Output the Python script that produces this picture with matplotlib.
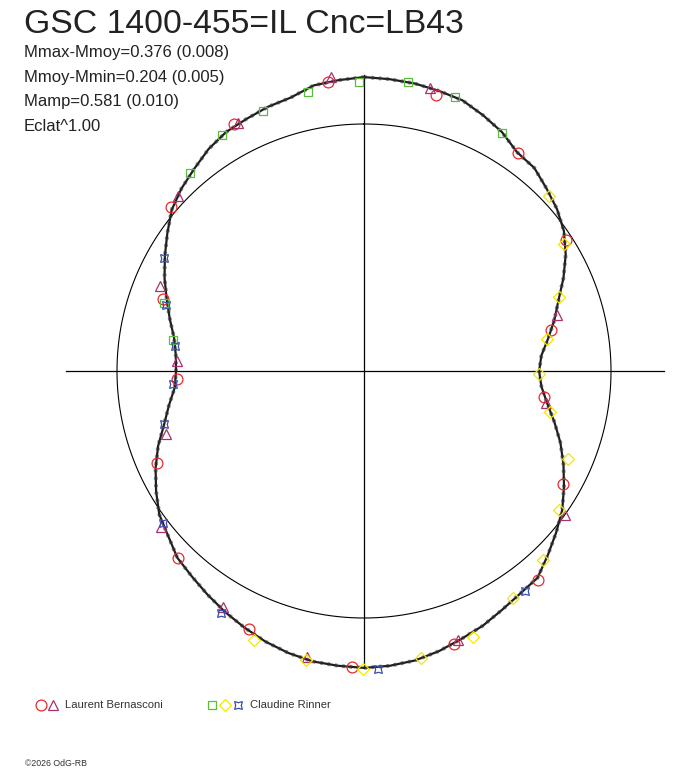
import numpy as np
import matplotlib
matplotlib.use('Agg')
import matplotlib.pyplot as plt
from matplotlib.lines import Line2D

plt.rcParams['font.family'] = ['Liberation Sans', 'DejaVu Sans']

# Courbe de lumiere polaire : angle (deg, sens horaire depuis le haut), eclat relatif (cercle = 1)
curve_angle = list(range(0, 360, 5))
curve_flux = [1.190, 1.186, 1.182, 1.174, 1.166, 1.142, 1.117, 1.081, 1.073, 1.045, 1.020, 0.988,
              0.943, 0.891, 0.838, 0.798, 0.757, 0.721, 0.709, 0.721, 0.753, 0.798, 0.846, 0.891,
              0.935, 0.980, 1.016, 1.053, 1.093, 1.101, 1.117, 1.138, 1.154, 1.174, 1.190, 1.198,
              1.202, 1.198, 1.194, 1.182, 1.166, 1.146, 1.126, 1.105, 1.085, 1.069, 1.036, 1.012,
              0.972, 0.931, 0.887, 0.838, 0.802, 0.769, 0.761, 0.765, 0.781, 0.814, 0.850, 0.891,
              0.931, 0.972, 1.016, 1.045, 1.069, 1.097, 1.117, 1.126, 1.138, 1.146, 1.174, 1.182]

# Laurent Bernasconi
lb_circle_angle = [352.9, 332.2, 14.6, 35.2, 57.0, 77.6, 98.2, 119.6, 140.2, 161.8, 182.3, 204.0,
                   224.8, 246.0, 267.6, 289.7, 310.4]
lb_circle_flux = [1.179, 1.130, 1.155, 1.081, 0.975, 0.775, 0.736, 0.926, 1.101, 1.164, 1.199, 1.144,
                  1.068, 0.917, 0.758, 0.864, 1.025]
lb_tri_angle = [353.6, 333.1, 13.1, 73.8, 100.0, 125.6, 160.7, 191.3, 210.9, 232.5, 252.4, 273.1,
                292.6, 313.3]
lb_tri_flux = [1.198, 1.126, 1.177, 0.814, 0.748, 1.001, 1.154, 1.181, 1.113, 1.036, 0.841, 0.758,
               0.895, 1.034]

# Claudine Rinner
cr_square_angle = [359.0, 348.7, 338.8, 329.0, 318.7, 288.8, 279.2, 8.7, 18.4, 30.1]
cr_square_flux = [1.170, 1.152, 1.129, 1.115, 1.067, 0.855, 0.783, 1.183, 1.169, 1.114]
cr_diam_angle = [46.6, 57.6, 69.2, 80.1, 91.0, 102.4, 113.3, 125.5, 136.6, 146.7, 157.7, 168.8,
                 180.2, 191.3, 202.2]
cr_diam_flux = [1.031, 0.959, 0.844, 0.752, 0.709, 0.771, 0.900, 0.970, 1.054, 1.099, 1.164, 1.185,
                1.206, 1.193, 1.177]
cr_star_angle = [299.5, 288.4, 277.5, 266.1, 255.2, 232.9, 210.6, 177.3, 143.8]
cr_star_flux = [0.930, 0.845, 0.772, 0.775, 0.838, 1.020, 1.138, 1.208, 1.104]

# longueur des axes (haut, droite, bas, gauche)
axis_angle = [0, 90, 180, 270]
axis_len = [1.198, 1.215, 1.202, 1.206]

title = 'GSC 1400-455=IL Cnc=LB43'
info_lines = ['Mmax-Mmoy=0.376 (0.008)', 'Mmoy-Mmin=0.204 (0.005)',
              'Mamp=0.581 (0.010)', 'Eclat^1.00']

W, H = 688, 768
fig = plt.figure(figsize=(W / 100, H / 100), dpi=100)

# axe polaire centre sur (364, 371) px, cercle unite = 247 px
cx, cy, R = 364, 371, 247
rmax = 1.25
half = rmax * R
ax = fig.add_axes([(cx - half) / W, (H - cy - half) / H, 2 * half / W, 2 * half / H],
                  projection='polar')
ax.set_theta_zero_location('N')
ax.set_theta_direction(-1)
ax.set_rlim(0, rmax)
ax.set_axis_off()

for a, l in zip(axis_angle, axis_len):
    ax.plot([np.radians(a), np.radians(a)], [0, l], color='black', lw=0.9, clip_on=False)

t = np.linspace(0, 2 * np.pi, 721)
ax.plot(t, np.ones_like(t), color='black', lw=0.8)

th = np.radians(curve_angle + [curve_angle[0]])
fl = curve_flux + [curve_flux[0]]
ax.plot(th, fl, color='#1e1e1e', lw=1.6)
ax.plot(th, fl, color='#333333', lw=2.8, ls=(0, (0.7, 1.2)), alpha=0.55)

red = '#e8282d'
purple = '#a8306f'
green = '#5cbd3c'
yellow = '#f5e600'
blue = '#3a4fa8'

styles = [
    (lb_circle_angle, lb_circle_flux, 'o', red, 7.8),
    (lb_tri_angle, lb_tri_flux, '^', purple, 7),
    (cr_square_angle, cr_square_flux, 's', green, 6),
    (cr_diam_angle, cr_diam_flux, 'D', yellow, 6),
    (cr_star_angle, cr_star_flux, (4, 1, 45), blue, 8),
]
for ang, flx, mk, col, ms in styles:
    ax.plot(np.radians(ang), flx, ls='none', marker=mk, ms=ms, mfc='none', mec=col, mew=0.9,
            clip_on=False)

# textes
fig.text(24 / W, 1 - 33 / H, title, fontsize=24.3, color='#222222', va='baseline')
for i, s in enumerate(info_lines):
    fig.text(24 / W, 1 - (57 + 24.7 * i) / H, s, fontsize=12, color='#222222', va='baseline')

# legende
legend_items = [
    ([('o', red, 7.8, 41), ('^', purple, 7, 53)], 'Laurent Bernasconi', 65),
    ([('s', green, 6, 212), ('D', yellow, 6, 225), ((4, 1, 45), blue, 8, 238)], 'Claudine Rinner', 250),
]
ly = 705
for marks, label, tx in legend_items:
    for mk, col, ms, mx in marks:
        fig.add_artist(Line2D([mx / W], [1 - ly / H], transform=fig.transFigure, ls='none',
                              marker=mk, ms=ms, mfc='none', mec=col, mew=0.9))
    fig.text(tx / W, 1 - ly / H, label, fontsize=8.1, color='#333333', va='center')

fig.text(25 / W, 1 - 763 / H, '©2026 OdG-RB', fontsize=6.3, color='#333333', va='center')

fig.savefig('out.png', dpi=100)
